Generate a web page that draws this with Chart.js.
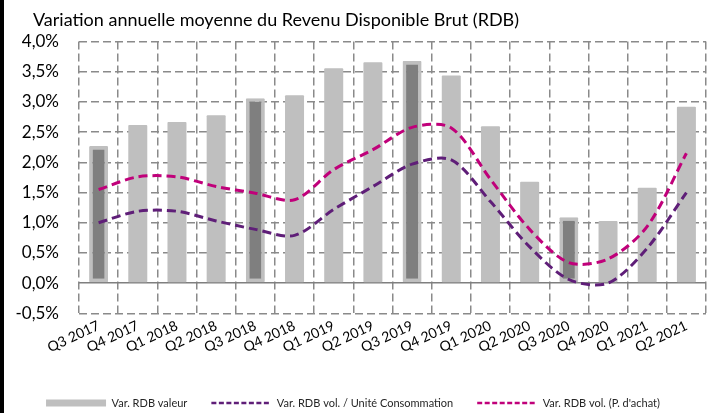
<!DOCTYPE html>
<html>
<head>
<meta charset="utf-8">
<script src="https://cdn.jsdelivr.net/npm/chart.js@4"></script>
<style>
  body { margin: 0; background: #fff; }
  #wrap { position: relative; width: 707px; height: 413px; }
  #leftBar { position: absolute; left: 0; top: 0; width: 4px; height: 413px; background: #000; }
</style>
</head>
<body>
<div id="wrap">
  <canvas id="myChart" width="707" height="413"></canvas>
  <div id="leftBar"></div>
</div>
<script>
const categories = ['Q3 2017', 'Q4 2017', 'Q1 2018', 'Q2 2018', 'Q3 2018', 'Q4 2018', 'Q1 2019', 'Q2 2019',
  'Q3 2019', 'Q4 2019', 'Q1 2020', 'Q2 2020', 'Q3 2020', 'Q4 2020', 'Q1 2021', 'Q2 2021'];

const rdbValeur = [2.27, 2.62, 2.67, 2.78, 3.06, 3.11, 3.56, 3.66, 3.68, 3.44, 2.6, 1.68, 1.09, 1.03, 1.58, 2.92];
const rdbUniteConso = [1.0, 1.19, 1.19, 1.03, 0.89, 0.79, 1.22, 1.6, 1.97, 2.04, 1.35, 0.6, 0.06, 0.0, 0.58, 1.5];
const rdbPouvoirAchat = [1.55, 1.76, 1.76, 1.6, 1.49, 1.38, 1.88, 2.21, 2.58, 2.57, 1.72, 0.89, 0.34, 0.4, 0.94, 2.15];

const seriesNames = ['Var. RDB valeur', 'Var. RDB vol. / Unité Consommation', "Var. RDB vol. (P. d'achat)"];
const titleText = 'Variation annuelle moyenne du Revenu Disponible Brut (RDB)';

const lightGrey = '#bfbfbf';
const darkGrey = '#7f7f7f';
const purple = '#5f1e78';
const magenta = '#c0007a';

// les T3 sont en gris fonce
const isQ3 = categories.map(c => c.startsWith('Q3'));

// decale le titre vers la gauche du graphique (x = 33)
const titleShift = {
  id: 'titleShift',
  afterLayout(chart) {
    if (chart.titleBlock) chart.titleBlock.left = 33;
  }
};

const ctx = document.getElementById('myChart').getContext('2d');

const myChart = new Chart(ctx, {
  data: {
    labels: categories,
    datasets: [{
      type: 'bar',
      label: seriesNames[0],
      data: rdbValeur,
      backgroundColor: isQ3.map(q => q ? darkGrey : lightGrey),
      borderColor: lightGrey,
      borderWidth: isQ3.map(q => q ? 3.5 : 0),
      borderSkipped: false,
      borderRadius: 1,
      barPercentage: 0.97,
      categoryPercentage: 0.5,
      order: 2
    }, {
      type: 'line',
      label: seriesNames[1],
      data: rdbUniteConso,
      borderColor: purple,
      borderWidth: 3,
      borderDash: [9, 5],
      pointRadius: 0,
      tension: 0.3,
      fill: false,
      order: 1
    }, {
      type: 'line',
      label: seriesNames[2],
      data: rdbPouvoirAchat,
      borderColor: magenta,
      borderWidth: 3,
      borderDash: [9, 5],
      pointRadius: 0,
      tension: 0.3,
      fill: false,
      order: 1
    }]
  },
  plugins: [titleShift],
  options: {
    responsive: false,
    animation: false,
    devicePixelRatio: 1,
    layout: { padding: { left: 0, right: 1, top: 0, bottom: 0 } },
    plugins: {
      title: {
        display: true,
        text: titleText,
        align: 'start',
        color: '#000',
        font: { family: 'Lato', size: 18, weight: 'normal' },
        padding: { top: 9, bottom: 11 }
      },
      legend: {
        position: 'bottom',
        maxHeight: 39.5,
        labels: {
          usePointStyle: true,
          pointStyleWidth: 60,
          boxHeight: 7,
          padding: 24,
          color: '#262626',
          font: { family: 'Lato', size: 11 },
          sort: (a, b) => a.datasetIndex - b.datasetIndex,
          generateLabels: function (chart) {
            const items = Chart.defaults.plugins.legend.labels.generateLabels(chart);
            items.forEach(item => {
              if (item.datasetIndex === 0) {
                item.pointStyle = 'rect';
                item.fillStyle = lightGrey;
                item.strokeStyle = lightGrey;
                item.lineWidth = 0;
              } else {
                item.pointStyle = 'line';
                item.strokeStyle = item.datasetIndex === 1 ? purple : magenta;
                item.lineWidth = 2.5;
                item.lineDash = [5, 2.5];
              }
            });
            return items;
          }
        }
      },
      tooltip: { enabled: false }
    },
    scales: {
      x: {
        afterFit: function (scale) { scale.height = 60.2; },
        border: { display: false, dash: [8, 4] },
        grid: { color: '#8a8a8a', lineWidth: 1.5, drawTicks: false, offset: true },
        ticks: {
          color: '#000',
          font: { family: 'Lato', size: 14 },
          minRotation: 25,
          maxRotation: 25,
          padding: 4,
          autoSkip: false
        }
      },
      y: {
        min: -0.5,
        max: 4,
        afterFit: function (scale) { scale.width = 79; },
        border: {
          display: false,
          dash: function (context) { return context.tick && context.tick.value === 0 ? [] : [8, 4]; }
        },
        grid: {
          color: function (context) { return context.tick && context.tick.value === 0 ? '#7f7f7f' : '#8a8a8a'; },
          lineWidth: 1.5,
          drawTicks: false
        },
        ticks: {
          stepSize: 0.5,
          color: '#000',
          padding: 20,
          font: { family: 'Lato', size: 17 },
          callback: function (value) { return value.toFixed(1).replace('.', ',') + '%'; }
        }
      }
    }
  }
});
</script>
</body>
</html>
